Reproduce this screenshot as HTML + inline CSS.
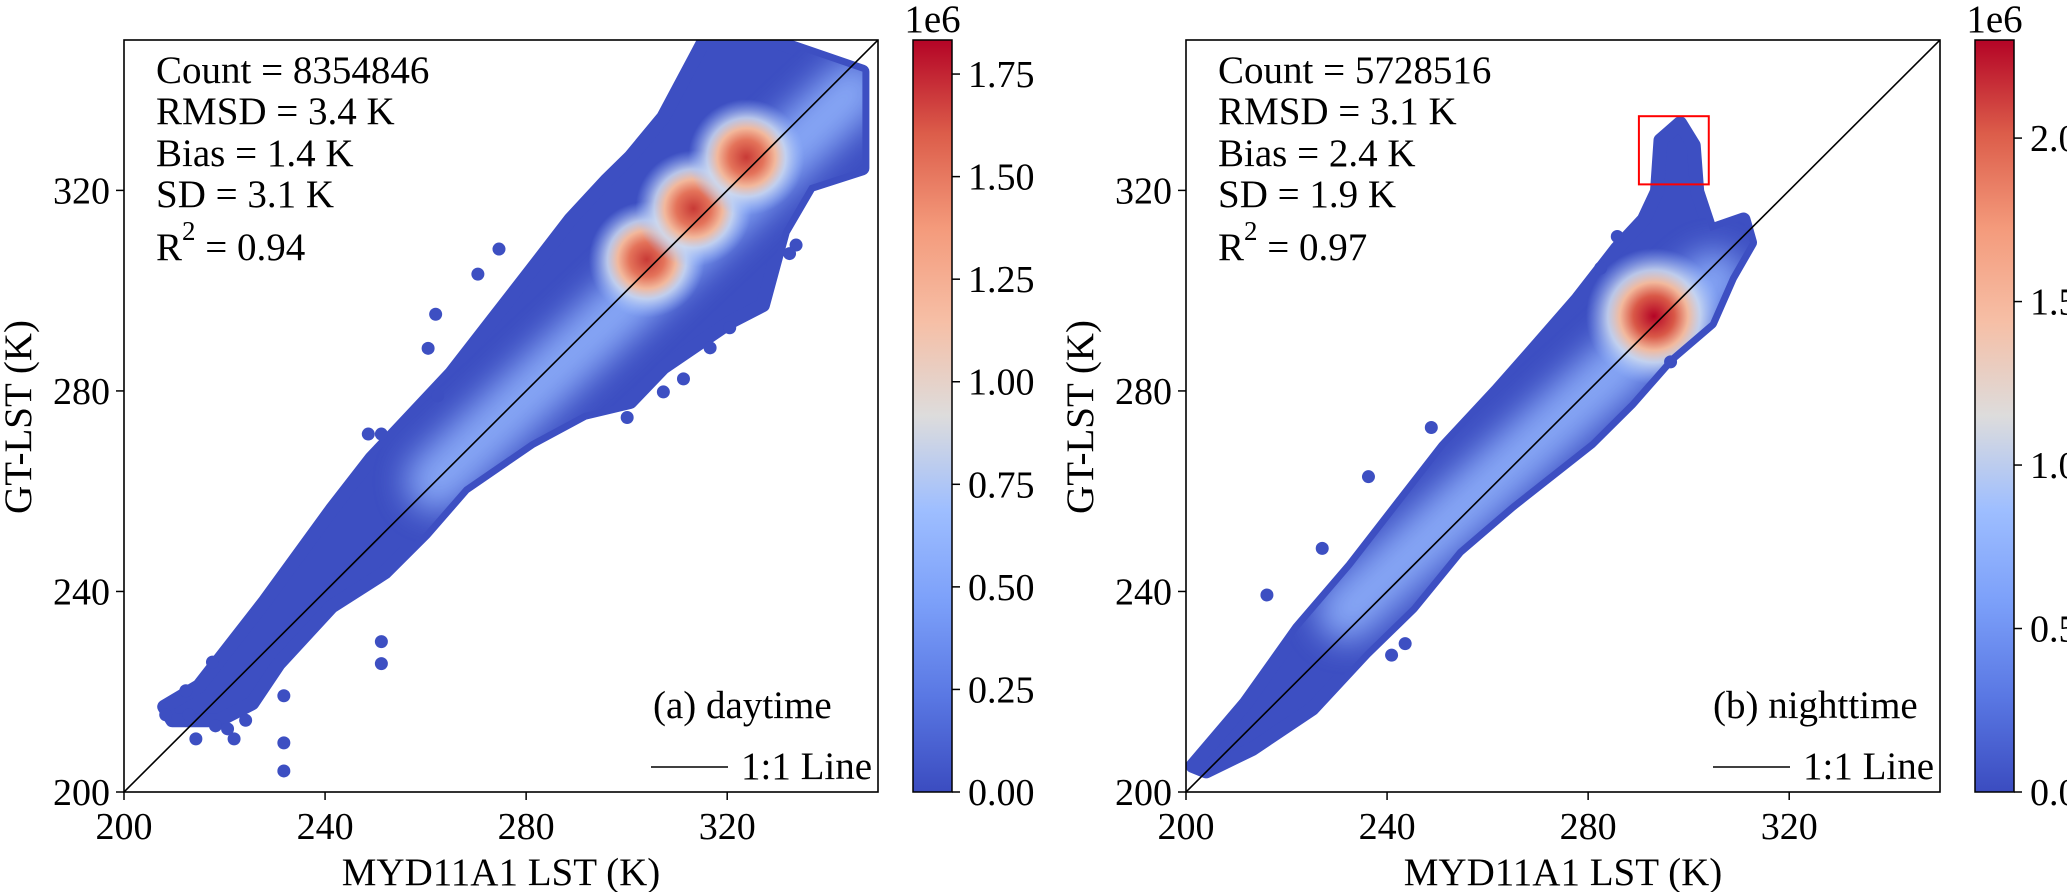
<!DOCTYPE html>
<html><head><meta charset="utf-8"><style>
html,body{margin:0;padding:0;background:#fff;overflow:hidden}
svg{display:block;font-family:"Liberation Serif",serif}
</style></head><body>
<svg id="fig" width="2067" height="892" viewBox="0 0 2067 892" xmlns="http://www.w3.org/2000/svg">
<defs>
<linearGradient id="cmap" x1="0" y1="1" x2="0" y2="0">
<stop offset="0" stop-color="#3b4cc0"/><stop offset="0.125" stop-color="#5977e3"/><stop offset="0.25" stop-color="#7b9ff9"/><stop offset="0.375" stop-color="#9ebeff"/><stop offset="0.5" stop-color="#dddcdc"/><stop offset="0.625" stop-color="#f6bfa6"/><stop offset="0.75" stop-color="#f49a7b"/><stop offset="0.875" stop-color="#dc5d4a"/><stop offset="1" stop-color="#b40426"/>
</linearGradient>
<radialGradient id="hotL">
<stop offset="0" stop-color="#c83a36"/><stop offset="0.3" stop-color="#e4735a"/><stop offset="0.5" stop-color="#f2b89c"/><stop offset="0.68" stop-color="#cdd9ef" stop-opacity="0.85"/><stop offset="1" stop-color="#9ebeff" stop-opacity="0"/>
</radialGradient>
<radialGradient id="hotR">
<stop offset="0" stop-color="#b40426"/><stop offset="0.3" stop-color="#d95847"/><stop offset="0.5" stop-color="#f2b99d"/><stop offset="0.68" stop-color="#cfdbef" stop-opacity="0.85"/><stop offset="1" stop-color="#9ebeff" stop-opacity="0"/>
</radialGradient>
<filter id="blur" x="-50%" y="-50%" width="200%" height="200%"><feGaussianBlur stdDeviation="16"/></filter>
</defs>
<g id="root"></g>
</svg>
<script>
// ---- data (K) ----
const xTicks = [200, 240, 280, 320];
const yTicks = [200, 240, 280, 320];
// daytime cloud envelope (upper edge then lower edge, data coords)
const dayUpperX = [208, 214.9, 228.1, 241.3, 249.2, 265.1, 273, 280.9, 288.8, 296, 300.7, 307.3, 313.9, 315.2, 330, 346.9, 346.9];
const dayUpperY = [217, 221.1, 238.1, 256.3, 266.5, 283.5, 293.7, 303.9, 314.2, 322, 326.6, 334.6, 347, 349.5, 349.5, 343.7, 324.4];
const dayLowerX = [336.4, 331.1, 327.1, 320.5, 307.3, 300.7, 291.5, 280.9, 267.7, 259.8, 251.9, 241.3, 230.8, 225.5, 218.9, 209.6];
const dayLowerY = [321, 311.9, 297.1, 293.7, 284.7, 277.8, 275.6, 269.9, 260.8, 251.7, 243.8, 237, 225.6, 217.7, 214.3, 214.3];
const dayHotX = [304, 313.3, 323.8];
const dayHotY = [306.2, 316.4, 326.6];
const dayOutX = [208.3, 212.9, 214.3, 212.3, 217.6, 218.2, 220.6, 221.9, 224.2, 231.8, 231.8, 231.8, 251.2, 251.2, 248.6, 251.2, 262.0, 260.5, 270.4, 274.6, 262.4, 333.7, 332.4, 320.5, 316.6, 300.1, 307.3, 311.3];
const dayOutY = [215.4, 215.4, 210.6, 220.2, 225.9, 213.2, 212.6, 210.6, 214.3, 219.2, 209.8, 204.2, 230.0, 225.6, 271.4, 271.4, 295.3, 288.5, 303.3, 308.3, 279.0, 309.1, 307.4, 292.6, 288.6, 274.7, 279.8, 282.4];
// nighttime cloud envelope
const nightEnvX = [201.3, 211.9, 222.4, 233, 243.6, 251.5, 262, 270, 277.9, 285.8, 291.1, 293.7, 294.4, 298.3, 301, 301.7, 304.3, 310.9, 312.2, 308.3, 304.3, 296.4, 288.4, 280.5, 264.7, 254.1, 244.9, 235.6, 225.1, 213.2, 204];
const nightEnvY = [205.2, 217.7, 232.5, 244.9, 258.6, 268.8, 280.1, 289.2, 298.3, 308.5, 314.2, 319.8, 330, 333.4, 329, 319.8, 311.9, 314.2, 309.6, 302.8, 293.7, 286.9, 277.8, 269.9, 257.4, 248.3, 237, 227.9, 216.6, 208.6, 204.1];
const nightHotX = [293.1];
const nightHotY = [294.9];
const nightOutX = [216.1, 236.3, 227.1, 248.8, 240.9, 243.6, 296.4, 282.5, 285.8];
const nightOutY = [239.3, 262.9, 248.6, 272.7, 227.3, 229.6, 285.8, 304.5, 310.8];
const dayCbTicks = [0, 0.25, 0.5, 0.75, 1.0, 1.25, 1.5, 1.75];
const dayCbLabels = ["0.00","0.25","0.50","0.75","1.00","1.25","1.50","1.75"];
const dayCbMax = 1.833;
const nightCbTicks = [0, 0.5, 1.0, 1.5, 2.0];
const nightCbLabels = ["0.0","0.5","1.0","1.5","2.0"];
const nightCbMax = 2.30;
const dayStats = ["Count = 8354846","RMSD = 3.4 K","Bias = 1.4 K","SD = 3.1 K","0.94"];
const nightStats = ["Count = 5728516","RMSD = 3.1 K","Bias = 2.4 K","SD = 1.9 K","0.97"];
const redBox = [290.1, 304, 321.2, 334.8];

const NS = "http://www.w3.org/2000/svg";
const root = document.getElementById('root');
function mk(tag, attrs, parent) {
  const e = document.createElementNS(NS, tag);
  for (const k in attrs) e.setAttribute(k, attrs[k]);
  (parent || root).appendChild(e);
  return e;
}
const T = 38;

function panel(o) {
  const L = o.left, R = o.left + 754, TOP = 40, BOT = 792;
  const sx = v => L + (v - 200) / 150 * (R - L);
  const sy = v => BOT - (v - 200) / 150 * (BOT - TOP);
  const g = mk('g', {});
  
  
  const cid = o.id + '-clip';
  const cp = mk('clipPath', {id: cid}, g);
  mk('rect', {x: L, y: TOP, width: R - L, height: BOT - TOP}, cp);
  const plot = mk('g', {'clip-path': 'url(#' + cid + ')'}, g);
  
  
  const pts = o.envX.map((x, i) => sx(x).toFixed(1) + ',' + sy(o.envY[i]).toFixed(1)).join(' ');
  const ccid = o.id + '-cloudclip';
  const ccp = mk('clipPath', {id: ccid}, g);
  mk('polygon', {points: pts}, ccp);
  const cloud = mk('polygon', {points: pts, fill: '#3d4fc2', stroke: '#3d4fc2', 'stroke-width': 14, 'stroke-linejoin': 'round'}, plot);
  
  
  const dens = mk('g', {'clip-path': 'url(#' + ccid + ')'}, plot);
  const band = mk('line', {x1: sx(o.band[0]), y1: sy(o.band[1]), x2: sx(o.band[2]), y2: sy(o.band[3]), stroke: '#8fb0fb', 'stroke-width': 60, 'stroke-linecap': 'round', filter: 'url(#blur)', opacity: 0.9}, dens);
  
  
  o.hotX.forEach((x, i) => {
    const c = mk('circle', {cx: sx(x), cy: sy(o.hotY[i]), r: o.hotR, fill: 'url(#' + o.grad + ')'}, dens);
    
    
  });
  o.outX.forEach((x, i) => {
    const c = mk('circle', {cx: sx(x), cy: sy(o.outY[i]), r: 6.5, fill: '#3d4fc2'}, plot);
    
    
  });
  const one = mk('line', {x1: sx(200), y1: sy(200), x2: sx(350), y2: sy(350), stroke: '#000', 'stroke-width': 1.6}, plot);
  
  
  if (o.box) {
    const b = mk('rect', {x: sx(o.box[0]), y: sy(o.box[3]), width: sx(o.box[1]) - sx(o.box[0]), height: sy(o.box[2]) - sy(o.box[3]), fill: 'none', stroke: '#ff0000', 'stroke-width': 2}, g);
    
    
  }
  const fr = mk('rect', {x: L, y: TOP, width: R - L, height: BOT - TOP, fill: 'none', stroke: '#000', 'stroke-width': 1.6}, g);
  
  
  xTicks.forEach(v => {
    mk('line', {x1: sx(v), y1: BOT, x2: sx(v), y2: BOT + 8, stroke: '#000', 'stroke-width': 1.5}, g);
    const t = mk('text', {x: sx(v), y: 839, 'font-size': T, 'text-anchor': 'middle'}, g);
    t.textContent = v;
    
    
  });
  yTicks.forEach(v => {
    mk('line', {x1: L - 8, y1: sy(v), x2: L, y2: sy(v), stroke: '#000', 'stroke-width': 1.5}, g);
    const t = mk('text', {x: L - 14, y: sy(v) + 13, 'font-size': T, 'text-anchor': 'end'}, g);
    t.textContent = v;
    
    
  });
  const xl = mk('text', {x: (L + R) / 2, y: 885, 'font-size': 39, 'text-anchor': 'middle'}, g);
  xl.textContent = 'MYD11A1 LST (K)';
  
  
  const yl = mk('text', {x: 0, y: 0, 'font-size': 39, 'text-anchor': 'middle', transform: 'translate(' + (L - 93) + ',417) rotate(-90)'}, g);
  yl.textContent = 'GT-LST (K)';
  
  
  const sl = [83, 124, 166, 207];
  o.stats.slice(0, 4).forEach((s, i) => {
    const t = mk('text', {x: L + 32, y: sl[i], 'font-size': 39}, g);
    t.textContent = s;
    
    
  });
  const r2 = mk('text', {x: L + 32, y: 260, 'font-size': 39}, g);
  
  
  r2.innerHTML = 'R<tspan dy="-20" font-size="27">2</tspan><tspan dy="20"> = ' + o.stats[4] + '</tspan>';
  const pl = mk('text', {x: L + o.labDx, y: 718, 'font-size': 39}, g);
  pl.textContent = o.label;
  
  
  const lg = mk('g', {}, g);
  
  
  mk('line', {x1: R - 227, y1: 767, x2: R - 150, y2: 767, stroke: '#000', 'stroke-width': 1.6}, lg);
  const lt = mk('text', {x: R - 137, y: 779, 'font-size': 39}, lg);
  lt.textContent = '1:1 Line';
  const cb = mk('g', {}, g);
  
  
  const CX = o.cbx, CW = 39;
  const cy = v => BOT - v / o.cbMax * (BOT - TOP);
  mk('rect', {x: CX, y: TOP, width: CW, height: BOT - TOP, fill: 'url(#cmap)', stroke: '#000', 'stroke-width': 1.5}, cb);
  o.cbTicks.forEach((v, i) => {
    mk('line', {x1: CX + CW, y1: cy(v), x2: CX + CW + 8, y2: cy(v), stroke: '#000', 'stroke-width': 1.5}, cb);
    const t = mk('text', {x: CX + CW + 16, y: cy(v) + 13, 'font-size': T}, cb);
    t.textContent = o.cbLabels[i];
    
    
  });
  const e6 = mk('text', {x: CX + CW / 2, y: 32, 'font-size': 39, 'text-anchor': 'middle'}, cb);
  e6.textContent = '1e6';
  
  
}

panel({id: 'daytime', left: 124, envX: dayUpperX.concat(dayLowerX), envY: dayUpperY.concat(dayLowerY),
  hotX: dayHotX, hotY: dayHotY, hotR: 58, grad: 'hotL', band: [262, 262, 345, 340],
  outX: dayOutX, outY: dayOutY, stats: dayStats, label: '(a) daytime', labDx: 529,
  cbx: 913, cbTicks: dayCbTicks, cbLabels: dayCbLabels, cbMax: dayCbMax});
panel({id: 'nighttime', left: 1186, envX: nightEnvX, envY: nightEnvY,
  hotX: nightHotX, hotY: nightHotY, hotR: 68, grad: 'hotR', band: [232, 236, 305, 302],
  outX: nightOutX, outY: nightOutY, stats: nightStats, label: '(b) nighttime', labDx: 527, box: redBox,
  cbx: 1975, cbTicks: nightCbTicks, cbLabels: nightCbLabels, cbMax: nightCbMax});
</script>
</body></html>
